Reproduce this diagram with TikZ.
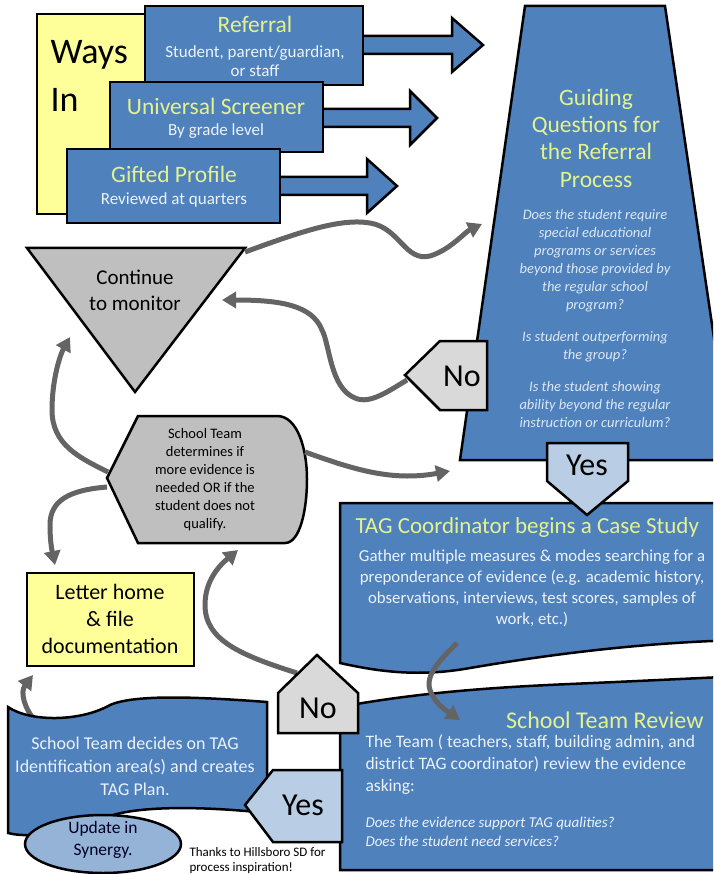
\documentclass[tikz,border=0pt]{standalone}
\usepackage{fontspec}
\setmainfont{Carlito}
\usepackage{tikz}
\usetikzlibrary{arrows.meta}

\definecolor{boxblue}{RGB}{79,129,189}
\definecolor{lemon}{RGB}{255,255,153}
\definecolor{midgray}{RGB}{191,191,191}
\definecolor{palegray}{RGB}{217,217,217}
\definecolor{paleblue}{RGB}{185,205,229}
\definecolor{skyblue}{RGB}{149,179,215}
\definecolor{titlegreen}{RGB}{228,242,142}
\definecolor{notewhite}{RGB}{236,242,250}
\definecolor{arrgray}{RGB}{100,100,100}

\begin{document}
\begin{tikzpicture}[x=1pt, y=-1pt,
    shapeline/.style={draw=black, line width=2.5pt, line join=miter},
    bluebox/.style={shapeline, fill=boxblue},
    blockarr/.style={draw=black, line width=2.5pt, fill=boxblue},
    arr/.style={draw=arrgray, line width=5pt, -{Triangle[length=14pt,width=16pt]}},
    hand/.style={text=titlegreen, font=\fontsize{23.5}{27.3}\selectfont},
    note/.style={text=notewhite, align=center},
    big/.style={font=\fontsize{32}{36}\selectfont}
  ]
    \useasboundingbox (0,0) rectangle (713,874);
    \clip (0,0) rectangle (713,874);
    % Ways in
    \draw[shapeline, fill=lemon] (37,14) rectangle (160,214);
    \node[anchor=west, font=\fontsize{36}{40}\selectfont] (ways) at (47,55) {Ways};
    \node[anchor=west, font=\fontsize{36}{40}\selectfont] (in) at (47,100) {In};
    % Referral
    \draw[blockarr] (350,36) -- (452,36) -- (452,18) -- (483,45) -- (452,72) -- (452,54) -- (350,54) -- cycle;
    \draw[bluebox] (145,6) rectangle (363,85);
    \node[hand] (referral) at (255,24) {Referral};
    \node[note, font=\fontsize{17}{19.5}\selectfont] (referral-who) at (255,61) {Student, parent/guardian,\\or staff};
    % Universal screener
    \draw[blockarr] (310,109) -- (410,109) -- (410,91) -- (437,118) -- (410,145) -- (410,127) -- (310,127) -- cycle;
    \draw[bluebox] (110,82) rectangle (323,152);
    \node[hand] (screener) at (216,106) {Universal Screener};
    \node[note, font=\fontsize{17}{19.5}\selectfont] (screener-who) at (216,131) {By grade level};
    % Gifted profile
    \draw[blockarr] (267,177) -- (367,177) -- (367,159) -- (397,186) -- (367,213) -- (367,195) -- (267,195) -- cycle;
    \draw[bluebox] (67,149) rectangle (280,223);
    \node[hand] (gifted) at (174,174) {Gifted Profile};
    \node[note, font=\fontsize{17}{19.5}\selectfont] (gifted-who) at (174,200) {Reviewed at quarters};
    % Guiding questions
    \draw[bluebox] (525,6) -- (665,6) -- (732,460) -- (460,460) -- cycle;
    \node[hand, align=center] (guiding) at (596,138) {Guiding\\Questions for\\the Referral\\Process};
    \node[note, text=notewhite!90!boxblue, font=\itshape\fontsize{14.5}{18}\selectfont] (questions) at (595,319)
      {Does the student require\\special educational\\programs or services\\beyond those provided by\\the regular school\\program?\\[14pt]
       Is student outperforming\\the group?\\[14pt]
       Is the student showing\\ability beyond the regular\\instruction or curriculum?};
    % Continue to monitor
    \draw[shapeline, fill=midgray] (27,248) -- (245,248) -- (135,392) -- cycle;
    \node[align=center, font=\fontsize{21}{26}\selectfont] (monitor) at (135,290) {Continue\\to monitor};
    % School team determines
    \draw[shapeline, fill=midgray] (107,478) -- (138,416) -- (277,416)
      .. controls (298,416) and (307,450) .. (307,479)
      .. controls (307,510) and (300,543) .. (285,543) -- (138,543) -- cycle;
    \node[align=center, font=\fontsize{14.5}{18}\selectfont] (determine) at (205,480)
      {School Team\\determines if\\more evidence is\\needed OR if the\\student does not\\qualify.};
    % Letter home
    \draw[shapeline, fill=lemon] (27,573) rectangle (194,666);
    \node[align=center, font=\fontsize{22}{27}\selectfont] (letter) at (110,619) {Letter home\\\& file\\documentation};
    % No (referral)
    \draw[shapeline, fill=palegray] (405,375) -- (440,341) -- (487,341) -- (487,410) -- (440,410) -- cycle;
    \node[big] (no-top) at (462,376) {No};
    % TAG coordinator case study
    \draw[bluebox] (340,503) -- (745,503) -- (745,640)
      .. controls (640,642) and (540,656) .. (470,668)
      .. controls (420,677) and (380,672) .. (340,663) -- cycle;
    \draw[shapeline, fill=paleblue] (547,443) -- (628,443) -- (628,481) -- (587,515) -- (547,481) -- cycle;
    \node[big] (yes-top) at (587,465) {Yes};
    \node[hand, anchor=west, font=\fontsize{23}{28}\selectfont] (casestudy) at (352,527) {TAG Coordinator begins a Case Study};
    \node[note, font=\fontsize{16.8}{21}\selectfont] (measures) at (532,588)
      {Gather multiple measures \& modes searching for a\\preponderance of evidence (e.g. academic history,\\observations, interviews, test scores, samples of\\work, etc.)};
    % School team review
    \draw[bluebox] (340,707) .. controls (420,692) and (500,687) .. (570,684)
      .. controls (640,681) and (700,678) .. (745,676) -- (745,870) -- (340,870) -- cycle;
    \node[hand, anchor=east, font=\fontsize{24}{28}\selectfont] (review) at (707,720) {School Team Review};
    \node[note, anchor=west, align=left, font=\fontsize{17.5}{22}\selectfont] (team) at (362,765)
      {The Team ( teachers, staff, building admin, and\\district TAG coordinator) review the evidence\\asking:};
    \node[note, anchor=west, align=left, font=\itshape\fontsize{15}{19}\selectfont] (asking) at (362,832)
      {Does the evidence support TAG qualities?\\Does the student need services?};
    % No (review)
    \coordinate (no-bottom-out) at (297,673);
    \coordinate (determine-in) at (238,550);
    \draw[arr] (no-bottom-out) .. controls (240,655) and (205,640) .. (205,605)
      .. controls (205,580) and (220,565) .. (determine-in);
    \draw[shapeline, fill=palegray] (317,655) -- (358,693) -- (358,733) -- (278,733) -- (278,693) -- cycle;
    \node[big] (no-bottom) at (318,708) {No};
    % School team decides
    \coordinate (decides-out) at (36,722);
    \coordinate (letter-in) at (33,675);
    \draw[arr] (decides-out) .. controls (24,708) and (20,692) .. (letter-in);
    \draw[bluebox] (8,707) .. controls (30,722) and (80,722) .. (110,705)
      .. controls (135,694) and (200,697) .. (267,702) -- (267,813)
      .. controls (200,806) and (140,806) .. (110,816)
      .. controls (80,828) and (35,840) .. (8,833) -- cycle;
    \node[note, font=\fontsize{18}{23}\selectfont] (decides) at (135,766)
      {School Team decides on TAG\\Identification area(s) and creates\\TAG Plan.};
    \draw[shapeline, fill=paleblue] (245,805) -- (273,770) -- (342,770) -- (342,842) -- (273,842) -- cycle;
    \node[big] (yes-bottom) at (303,805) {Yes};
    \draw[shapeline, fill=skyblue] (103,844) ellipse [x radius=78pt, y radius=29pt];
    \node[align=center, text=black!85!blue, font=\fontsize{17.5}{22}\selectfont] (synergy) at (103,840) {Update in\\Synergy.};
    \node[anchor=west, align=left, font=\fontsize{13}{15}\selectfont] (thanks) at (186,861) {Thanks to Hillsboro SD for\\process inspiration!};
    % Arrows
    \coordinate (monitor-out) at (245,252);
    \coordinate (guiding-in) at (482,224);
    \coordinate (no-top-out) at (407,380);
    \coordinate (monitor-in) at (222,300);
    \coordinate (determine-up) at (108,472);
    \coordinate (monitor-below) at (70,337);
    \coordinate (determine-down) at (107,487);
    \coordinate (letter-top) at (55,565);
    \coordinate (determine-right) at (305,452);
    \coordinate (guiding-foot) at (450,471);
    \coordinate (casestudy-out) at (457,643);
    \coordinate (review-in) at (460,720);
    \draw[arr] (monitor-out) .. controls (300,232) and (340,218) .. (370,223)
      .. controls (400,228) and (405,262) .. (430,256)
      .. controls (450,250) and (465,232) .. (guiding-in);
    \draw[arr] (no-top-out) .. controls (390,390) and (370,405) .. (355,398)
      .. controls (330,388) and (330,345) .. (322,330)
      .. controls (312,305) and (280,300) .. (monitor-in);
    \draw[arr] (determine-up) .. controls (80,458) and (52,445) .. (52,410)
      .. controls (52,380) and (60,355) .. (monitor-below);
    \draw[arr] (determine-down) .. controls (70,490) and (50,500) .. (50,525)
      .. controls (50,545) and (53,555) .. (letter-top);
    \draw[arr] (determine-right) .. controls (350,468) and (390,482) .. (guiding-foot);
    \draw[arr] (casestudy-out) .. controls (440,660) and (425,675) .. (430,690)
      .. controls (435,705) and (450,713) .. (review-in);
\end{tikzpicture}
\end{document}
